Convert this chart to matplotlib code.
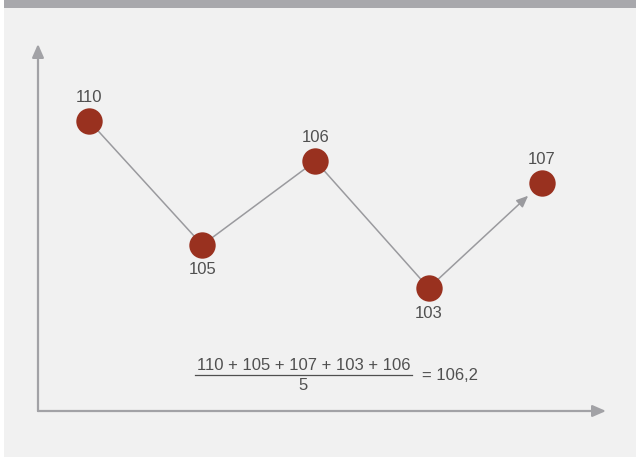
import matplotlib.pyplot as plt

plt.rcParams['font.family'] = ['Liberation Sans', 'DejaVu Sans']

# schematic chart: x slot, drawn height, label value
xs = [1, 2, 3, 4, 5]
heights = [29.0, 16.6, 25.0, 12.3, 22.8]
labels = [110, 105, 106, 103, 107]
label_above = [True, False, True, False, True]
formula_terms = [110, 105, 107, 103, 106]
formula_result = "106,2"

bg = "#f1f1f1"
band = "#a8a8ac"
axis_col = "#a2a2a6"
line_col = "#9a9a9e"
dot_col = "#99311f"
text_col = "#505050"

fig = plt.figure(figsize=(6.36, 4.57), dpi=100, facecolor="white")
# grey panel and top band
fig.patches.append(plt.Rectangle((4 / 636, 0), 1, 1, transform=fig.transFigure,
                                 facecolor=bg, edgecolor="none", zorder=-2))
fig.patches.append(plt.Rectangle((4 / 636, 1 - 7.5 / 457), 1, 7.5 / 457,
                                 transform=fig.transFigure, facecolor=band,
                                 edgecolor="none", zorder=-1))

ax = fig.add_axes([38 / 636, 46 / 457, 568 / 636, 367 / 457])
ax.set_facecolor("none")
ax.set_xlim(1 - 51 / 113, 1 + 516 / 113)
ax.set_ylim(0, 36.7)
for s in ax.spines.values():
    s.set_visible(False)
ax.set_xticks([])
ax.set_yticks([])

# axes with arrow heads
ax.annotate("", xy=(1.0, 0), xytext=(0, 0), xycoords="axes fraction",
            arrowprops=dict(arrowstyle="-|>,head_length=0.8,head_width=0.35",
                            color=axis_col, lw=1.6, shrinkA=0, shrinkB=0))
ax.annotate("", xy=(0, 1.0), xytext=(0, 0), xycoords="axes fraction",
            arrowprops=dict(arrowstyle="-|>,head_length=0.8,head_width=0.35",
                            color=axis_col, lw=1.6, shrinkA=0, shrinkB=0))

# connecting lines
ax.plot(xs[:-1], heights[:-1], color=line_col, lw=1.1, zorder=2)
ax.annotate("", xy=(xs[-1], heights[-1]), xytext=(xs[-2], heights[-2]),
            arrowprops=dict(arrowstyle="-|>,head_length=0.7,head_width=0.3",
                            color=line_col, lw=1.1, shrinkA=0, shrinkB=13.5),
            zorder=2)

ax.plot(xs, heights, "o", color=dot_col, ms=19, mec="none", zorder=3)

for x, h, lab, up in zip(xs, heights, labels, label_above):
    if up:
        ax.text(x, h + 2.35, str(lab), ha="center", va="center",
                fontsize=12, color=text_col)
    else:
        ax.text(x, h - 2.5, str(lab), ha="center", va="center",
                fontsize=12, color=text_col)

# average formula
numerator = " + ".join(str(v) for v in formula_terms)
ax.text(2.894, 4.6, numerator, ha="center", va="center", fontsize=12, color=text_col)
ax.plot([1.938, 3.850], [3.6, 3.6], color=text_col, lw=0.9)
ax.text(2.894, 2.5, str(len(formula_terms)), ha="center", va="center",
        fontsize=12, color=text_col)
ax.text(3.94, 3.55, "= " + formula_result, ha="left", va="center",
        fontsize=12, color=text_col)

fig.savefig("out.png", dpi=100, facecolor=fig.get_facecolor())
